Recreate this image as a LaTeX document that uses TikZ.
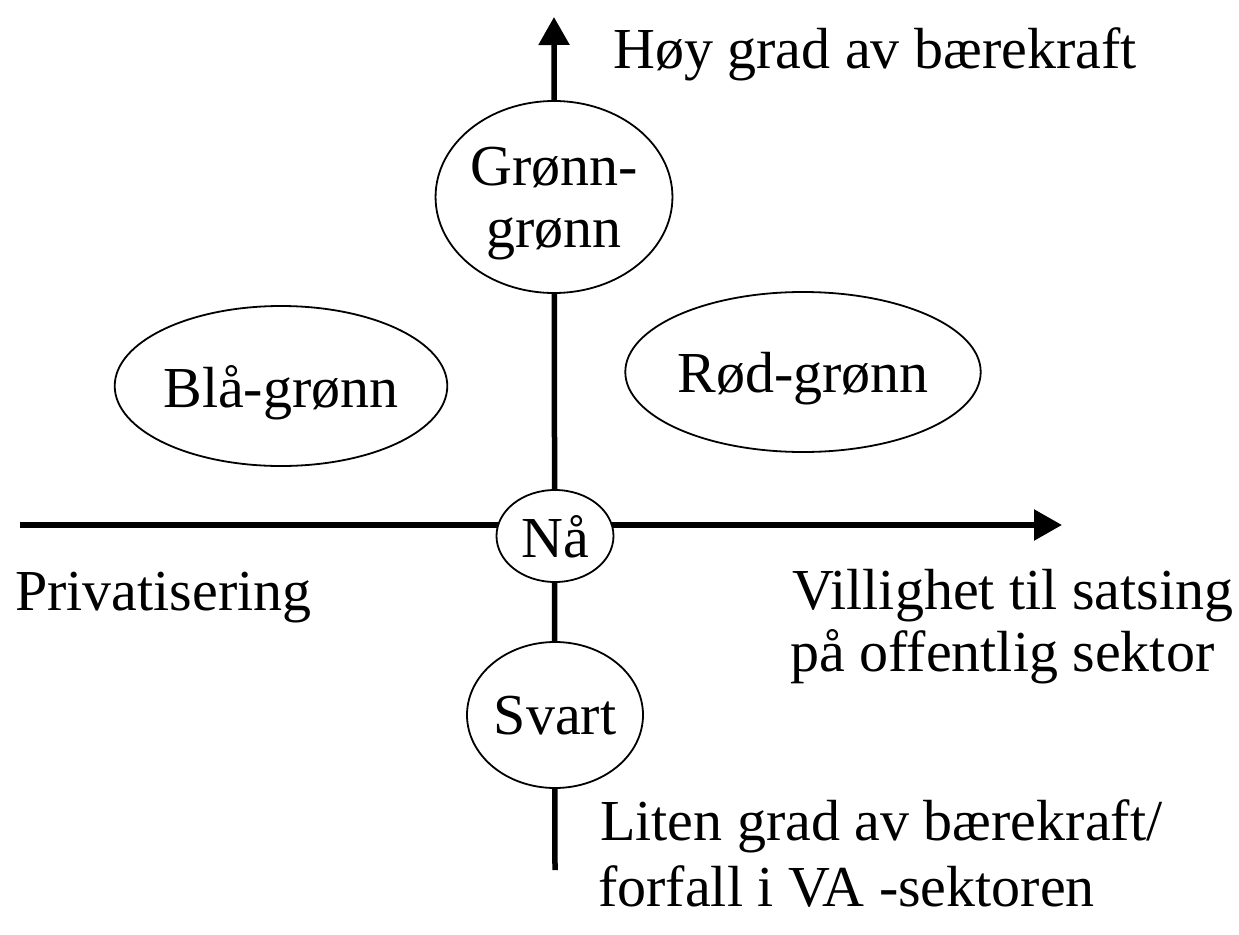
\documentclass[tikz,border=0pt]{standalone}
\usepackage{fontspec}
\setmainfont{Liberation Serif}
\usetikzlibrary{arrows.meta,shapes.geometric}
\pgfdeclarelayer{bg}
\pgfsetlayers{bg,main}
\tikzset{
  axis/.style={line width=5.5pt},
  axisarrow/.style={line width=5.5pt,-{Triangle[length=28pt,width=30pt]}},
  oval/.style={ellipse,draw,line width=1.8pt,fill=white,inner sep=0pt,align=center,text depth=0pt},
  lbl/.style={inner sep=0pt,anchor=base west},
}
\begin{document}
\begin{tikzpicture}[x=1pt,y=-1pt,font=\fontsize{58}{62}\selectfont]
\useasboundingbox (0,0) rectangle (1239,934);
% nodes
\node[oval,minimum width=206pt,minimum height=192pt] (gronn) at (554,197) {Grønn-\\grønn};
\node[oval,minimum width=258pt,minimum height=160pt] (bla) at (281,386) {Blå-grønn};
\node[oval,minimum width=260pt,minimum height=160pt] (rod) at (803,372) {Rød-grønn};
\node[oval,minimum width=117pt,minimum height=92pt] (naa) at (555,536) {Nå};
\node[oval,minimum width=176pt,minimum height=146pt] (svart) at (555,715) {Svart};
\coordinate (top) at (554,17);
\coordinate (bottom) at (555,870);
\coordinate (left) at (20,525);
\coordinate (right) at (1062,525);
% axes behind the nodes
\begin{pgfonlayer}{bg}
\draw[axisarrow] (bottom) -- (top);
\draw[axisarrow] (left) -- (right);
\end{pgfonlayer}
% labels
\node[lbl] (hoy) at (613,68) {Høy grad av bærekraft};
\node[lbl] (priv) at (15,610) {Privatisering};
\node[lbl] (vil1) at (792,609) {Villighet til satsing};
\node[lbl] (vil2) at (790,671) {på offentlig sektor};
\node[lbl] (lit1) at (600,840) {Liten grad av bærekraft/};
\node[lbl] (lit2) at (598,906) {forfall i VA -sektoren};
\end{tikzpicture}
\end{document}
